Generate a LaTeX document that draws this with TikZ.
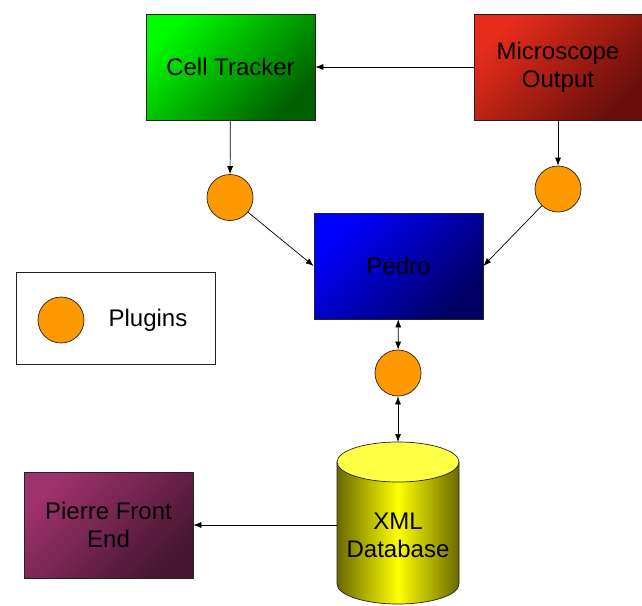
\documentclass[tikz,border=0pt]{standalone}
\usepackage{fontspec}
\setmainfont{Liberation Sans}
\usetikzlibrary{shapes.geometric, arrows.meta}
\definecolor{trackerhi}{RGB}{0,250,0}
\definecolor{trackerlo}{RGB}{0,95,0}
\definecolor{scopehi}{RGB}{232,45,28}
\definecolor{scopelo}{RGB}{105,15,10}
\definecolor{pedrohi}{RGB}{0,0,255}
\definecolor{pedrolo}{RGB}{0,0,100}
\definecolor{pierrehi}{RGB}{158,50,108}
\definecolor{pierrelo}{RGB}{70,22,48}
\definecolor{plugorange}{RGB}{255,153,0}
\definecolor{dbyellow}{RGB}{255,255,0}
\definecolor{dbedge}{RGB}{105,105,0}
\definecolor{dbtopfill}{RGB}{255,255,70}
\definecolor{rim}{RGB}{35,35,35}
\tikzstyle{process} = [rectangle, minimum width=169pt, minimum height=106pt, text centered, align=center, draw=rim, line width=0.7pt]
\tikzstyle{plugin} = [circle, minimum size=46pt, inner sep=0pt, draw=rim, line width=0.7pt, fill=plugorange]
\tikzstyle{arrow} = [line width=0.7pt, ->, >={Latex[length=8pt,width=6pt]}]
\tikzset{glow/.style 2 args={top color=#1, bottom color=#2, shading angle=45}}

\begin{document}
\begin{tikzpicture}[x=1pt, y=1pt, font=\fontsize{24}{28}\selectfont]
    \useasboundingbox (0,0) rectangle (642,-605);
    \node (tracker) [process, glow={trackerhi}{trackerlo}] at (230.5,-67) {Cell Tracker};
    \node (scope) [process, minimum width=168pt, glow={scopehi}{scopelo}] at (558,-67) {Microscope\\Output};
    \node (pedro) [process, glow={pedrohi}{pedrolo}] at (398.5,-266) {Pedro};
    \node (pierre) [process, glow={pierrehi}{pierrelo}] at (108.5,-525) {Pierre Front\\End};

    \node (plug1) [plugin] at (230,-197.5) {};
    \node (plug2) [plugin] at (558,-189) {};
    \node (plug3) [plugin] at (398,-373) {};

    % database drum
    \shade[draw=rim, line width=0.7pt, left color=dbedge, right color=dbedge, middle color=dbyellow]
        (337,-462) -- (337,-584) arc[start angle=180, end angle=360, x radius=61, y radius=20] -- (459,-462) -- cycle;
    \filldraw[draw=rim, line width=0.7pt, fill=dbtopfill] (398,-462) ellipse[x radius=61, y radius=20];
    \coordinate (dbtop) at (398,-442);
    \node (db) [minimum width=122pt, align=center] at (398,-535) {XML\\Database};

    % legend
    \node (legend) [rectangle, draw=rim, line width=0.7pt, minimum width=199pt, minimum height=92pt] at (115.5,-318) {};
    \node (key) [plugin] at (61,-320) {};
    \node (keytext) at (148,-320) {Plugins};

    \draw[arrow] (scope)--(tracker);
    \draw[arrow] (tracker)--(plug1);
    \draw[arrow] (scope)--(plug2);
    \draw[arrow] (plug1)--(pedro.west);
    \draw[arrow] (plug2)--(pedro.east);
    \draw[arrow, <->] (pedro)--(plug3);
    \draw[arrow, <->] (plug3)--(dbtop);
    \draw[arrow] (db.west |- pierre)--(pierre);
\end{tikzpicture}
\end{document}
